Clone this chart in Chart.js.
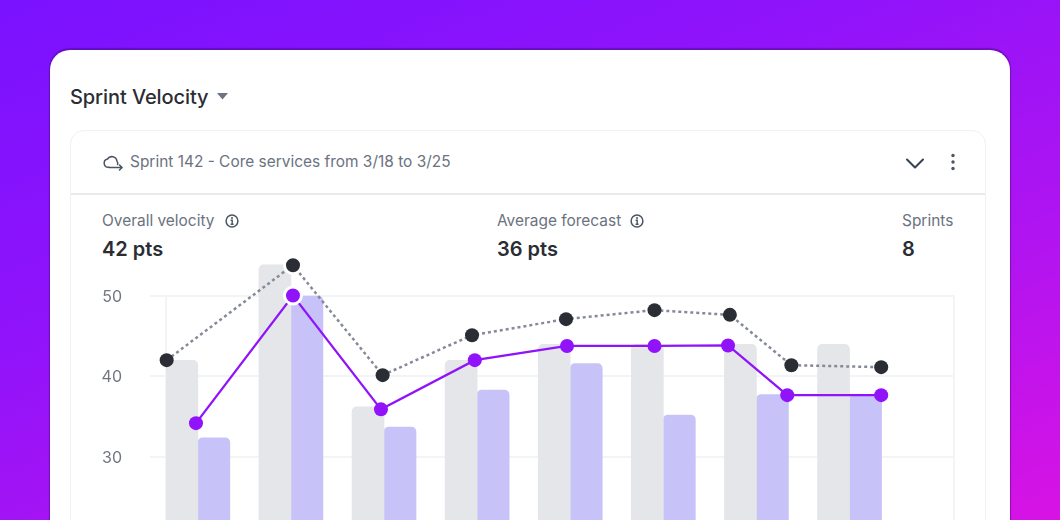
<!DOCTYPE html>
<html>
<head>
<meta charset="utf-8">
<title>Sprint Velocity</title>
<script src="https://cdn.jsdelivr.net/npm/chart.js@4"></script>
<style>
  html, body { margin: 0; padding: 0; }
  body {
    width: 1060px; height: 520px; overflow: hidden; position: relative;
    background: linear-gradient(158deg, #7a12ff 0%, #8f13fb 35%, #b114f0 70%, #d813e4 100%);
    font-family: Inter, sans-serif; color: #2a2d34;
  }
  .card {
    position: absolute; left: 50px; top: 50px; width: 960px; height: 520px;
    background: #fff; border-radius: 20px; box-shadow: 0 -1px 1px 1px rgba(60, 10, 120, .45);
  }
  .title { position: absolute; left: 70px; top: 85px; font-size: 20px; line-height: 24px; font-weight: 500; letter-spacing: -0.08px; }
  .panel {
    position: absolute; left: 70px; top: 130px; width: 914px; height: 420px;
    border: 1.5px solid #f0f1f3; border-radius: 14px;
  }
  .divider { position: absolute; left: 71px; top: 193px; width: 914px; height: 1.5px; background: #e9eaec; }
  .muted { position: absolute; font-size: 15.45px; line-height: 20px; color: #6b7280; white-space: nowrap; }
  .big { position: absolute; font-size: 20px; line-height: 24px; font-weight: 600; white-space: nowrap; }
  svg { position: absolute; overflow: visible; }
  canvas { position: absolute; }
  #chart-box { position: absolute; left: 70px; top: 248px; width: 890px; height: 289px; }
</style>
</head>
<body>
<div class="card"></div>
<div class="title">Sprint Velocity</div>
<svg style="left:217px;top:93px" width="12" height="7"><path d="M0 0H11L5.5 6.5Z" fill="#6b7280"/></svg>
<div class="panel"></div>
<div class="divider"></div>

<svg style="left:103px;top:154px" width="20" height="18" fill="none" stroke="#4b5563" stroke-width="1.5" stroke-linecap="round" stroke-linejoin="round">
  <path d="M6 13.3H5.2a4.2 4.2 0 0 1-.7-8.3A5.2 5.2 0 0 1 14 7.2a3.4 3.4 0 0 1 .6 3.2"/>
  <path d="M6 13.5H19M16.5 11l2.6 2.5L16.5 16"/>
</svg>
<div class="muted" style="left:130px;top:152px">Sprint 142 - Core services from 3/18 to 3/25</div>
<svg style="left:906px;top:158px" width="18" height="11" fill="none" stroke="#374151" stroke-width="2" stroke-linecap="round" stroke-linejoin="round"><path d="M1 1.5L9 9.5L17 1.5"/></svg>
<svg style="left:950px;top:153px" width="6" height="18" fill="#4b5563"><circle cx="3" cy="2.5" r="1.7"/><circle cx="3" cy="9" r="1.7"/><circle cx="3" cy="15.5" r="1.7"/></svg>

<div class="muted" style="left:102px;top:211px">Overall velocity</div>
<svg style="left:225px;top:214px" width="14" height="14" fill="none" stroke="#4b5563" stroke-width="1.5"><circle cx="7" cy="7" r="5.9"/><path d="M5.6 6.3H7.2V10M5.6 10.2H8.6" stroke-width="1.4"/><circle cx="7" cy="3.9" r="1" fill="#4b5563" stroke="none"/></svg>
<div class="big" style="left:102px;top:237px">42 pts</div>

<div class="muted" style="left:497px;top:211px">Average forecast</div>
<svg style="left:630px;top:214px" width="14" height="14" fill="none" stroke="#4b5563" stroke-width="1.5"><circle cx="7" cy="7" r="5.9"/><path d="M5.6 6.3H7.2V10M5.6 10.2H8.6" stroke-width="1.4"/><circle cx="7" cy="3.9" r="1" fill="#4b5563" stroke="none"/></svg>
<div class="big" style="left:497px;top:237px">36 pts</div>

<div class="muted" style="left:902px;top:211px">Sprints</div>
<div class="big" style="left:902px;top:237px">8</div>

<div id="chart-box"><canvas id="chart"></canvas></div>

<script>
// x values are sprint positions, 0 = first bar group
const barPositions = [0, 1, 2, 3, 4, 5, 6, 7];
const plannedBars = [42, 53.9, 36.2, 42, 44, 44, 44, 44];
const completedBars = [32.35, 50, 33.7, 38.3, 41.6, 35.2, 37.75, 37.7];

const forecastPositions = [-0.335, 1.022, 1.985, 2.945, 3.955, 4.905, 5.715, 6.375, 7.34];
const forecastValues = [42.03, 53.86, 40.16, 45.14, 47.14, 48.26, 47.67, 41.4, 41.16];

const velocityPositions = [-0.02, 1.022, 1.967, 2.975, 3.965, 4.905, 5.695, 6.331, 7.34];
const velocityValues = [34.18, 50.08, 35.9, 42.03, 43.8, 43.8, 43.86, 37.67, 37.67];

const yTicks = [20, 30, 40, 50];

const pairs = (xs, ys) => xs.map((x, i) => ({ x, y: ys[i] }));

// frame lines on both sides of the plot, only from the 50 line down
const frameLines = {
  id: 'frameLines',
  beforeDatasetsDraw(chart) {
    const { ctx, scales: { x, y } } = chart;
    ctx.save();
    ctx.strokeStyle = '#f3f4f6';
    ctx.lineWidth = 2;
    [x.min, x.max].forEach(v => {
      ctx.beginPath();
      ctx.moveTo(x.getPixelForValue(v), y.getPixelForValue(50) - 1);
      ctx.lineTo(x.getPixelForValue(v), y.bottom);
      ctx.stroke();
    });
    ctx.restore();
  }
};

const highlightRing = ctx => (ctx.dataIndex === 1 ? 3 : 0);
const highlightRadius = ctx => (ctx.dataIndex === 1 ? 8.5 : 7);

new Chart(document.getElementById('chart'), {
  type: 'bar',
  data: {
    datasets: [
      {
        type: 'bar', data: pairs(barPositions, plannedBars), order: 3,
        backgroundColor: '#e5e6ea', barThickness: 32,
        borderRadius: { topLeft: 5, topRight: 5 }, borderSkipped: false
      },
      {
        type: 'bar', data: pairs(barPositions, completedBars), order: 4,
        backgroundColor: '#c7c3f8', barThickness: 32,
        borderRadius: { topLeft: 5, topRight: 5 }, borderSkipped: false
      },
      {
        type: 'line', data: pairs(forecastPositions, forecastValues), order: 2, clip: false,
        borderColor: '#858a99', borderWidth: 2.5, borderDash: [3, 3],
        pointRadius: highlightRadius, pointBackgroundColor: '#2a2d34',
        pointBorderColor: '#fff', pointBorderWidth: highlightRing, tension: 0
      },
      {
        type: 'line', data: pairs(velocityPositions, velocityValues), order: 1, clip: false,
        borderColor: '#9013fa', borderWidth: 2.3,
        pointRadius: highlightRadius, pointBackgroundColor: '#9013fa',
        pointBorderColor: '#fff', pointBorderWidth: highlightRing, tension: 0
      }
    ]
  },
  options: {
    responsive: true,
    maintainAspectRatio: false,
    animation: false,
    events: [],
    layout: { autoPadding: false, padding: { left: 0, right: 6, top: 0, bottom: 0 } },
    plugins: { legend: { display: false }, tooltip: { enabled: false } },
    scales: {
      x: { type: 'linear', display: false, offset: false, min: -0.342, max: 8.122 },
      y: {
        min: 20,
        max: 56,
        afterBuildTicks: axis => { axis.ticks = yTicks.map(value => ({ value })); },
        afterFit: axis => { axis.width = 96; axis.paddingTop = 0; axis.paddingBottom = 0; },
        border: { display: false },
        grid: { color: '#f3f4f6', lineWidth: 2, tickLength: 16, tickColor: '#f3f4f6' },
        ticks: { color: '#737780', font: { family: 'Inter', size: 16 }, padding: 28, labelOffset: 1 }
      }
    }
  },
  plugins: [frameLines]
});
</script>
</body>
</html>
